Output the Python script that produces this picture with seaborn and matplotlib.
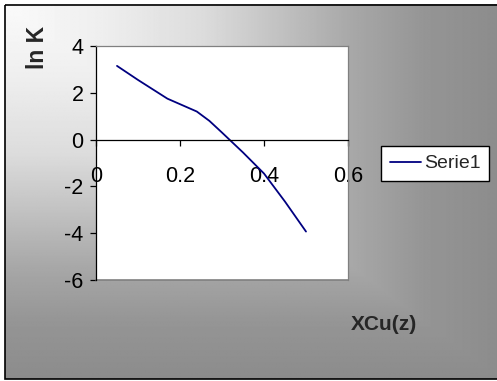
import numpy as np
import pandas as pd
import seaborn as sns
import matplotlib.pyplot as plt
from matplotlib.patches import Rectangle

# values
x_cu = [0.05, 0.1, 0.17, 0.24, 0.27, 0.3, 0.35, 0.4, 0.45, 0.5]
ln_k = [3.15, 2.55, 1.75, 1.2, 0.8, 0.3, -0.55, -1.45, -2.65, -3.93]
x_ticks = [0, 0.2, 0.4, 0.6]
y_ticks = [4, 2, 0, -2, -4, -6]
series_name = 'Serie1'

df = pd.DataFrame({'x': x_cu, 'y': ln_k, 'serie': series_name})

sns.set_style('white')
plt.rcParams['font.family'] = ['Liberation Sans', 'DejaVu Sans']

W, H = 497, 381
fig = plt.figure(figsize=(W / 100, H / 100), dpi=100)
fig.patch.set_facecolor('white')

# background: "from corner" gray gradient inside a black frame
bg = fig.add_axes([0, 0, 1, 1])
bg.set_xlim(0, W)
bg.set_ylim(H, 0)
bg.axis('off')
gx, gy = np.meshgrid(np.linspace(0, 1, 400), np.linspace(0, 1, 300))
t = np.maximum(gx, gy)
shade = np.interp(t, [0, 0.2, 0.4, 0.54, 0.7, 0.85, 1], [250, 238, 220, 196, 168, 149, 140]) / 255
bg.imshow(shade, cmap='gray', vmin=0, vmax=1, extent=[4.5, W + 2, H - 2, 4.5],
          aspect='auto', interpolation='bilinear')
bg.add_patch(Rectangle((4.5, 4.5), W, H - 6.5, fill=False, edgecolor='black', lw=1.2))

# plot area
ax = fig.add_axes([96 / W, 1 - 280 / H, (348 - 96) / W, (280 - 46) / H])
ax.set_facecolor('white')
sns.lineplot(data=df, x='x', y='y', hue='serie', palette=['#000080'], ax=ax,
             linewidth=1.3, legend=False)

ax.set_xlim(0, 0.6)
ax.set_ylim(-6, 4)
ax.set_xticks(x_ticks)
ax.set_xticklabels(['0', '0.2', '0.4', '0.6'])
ax.set_yticks(y_ticks)
ax.set_yticklabels([str(v) for v in y_ticks])
ax.set_xlabel('')
ax.set_ylabel('')

ax.spines['bottom'].set_position(('data', 0))
ax.spines['bottom'].set_color('black')
ax.spines['left'].set_color('black')
for s in ['top', 'right']:
    ax.spines[s].set_color('#808080')
for s in ax.spines.values():
    s.set_linewidth(0.9)
ax.axhline(-6, color='#808080', lw=1.2, clip_on=False)

ax.tick_params(axis='both', which='both', direction='out', length=4, width=0.9,
               color='black', labelsize=15.5, labelcolor='black')
ax.tick_params(axis='y', pad=5, left=True)
ax.tick_params(axis='x', pad=15, bottom=True)

# legend
line = ax.get_lines()[0]
leg = fig.legend([line], [series_name], loc='upper left',
                 bbox_to_anchor=(381 / W, 1 - 146 / H), borderaxespad=0,
                 fontsize=14, frameon=True, fancybox=False, handlelength=1.6,
                 handletextpad=0.15, borderpad=0.45)
leg.get_frame().set_edgecolor('black')
leg.get_frame().set_facecolor('white')
leg.get_frame().set_linewidth(1.0)
leg.get_frame().set_alpha(1)

# axis titles
fig.text(37 / W, 1 - 47 / H, 'ln K', rotation=90, ha='center', va='center',
         fontsize=16.5, fontweight='bold')
fig.text(384 / W, 1 - 325 / H, 'XCu(z)', ha='center', va='center',
         fontsize=15, fontweight='bold')

fig.savefig('out.png', dpi=100)
